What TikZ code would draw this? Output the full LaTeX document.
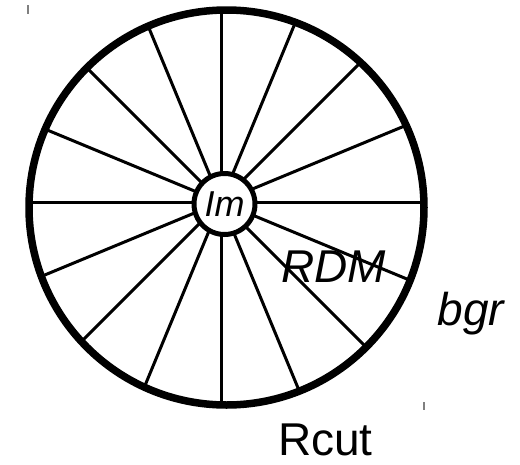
\documentclass[tikz,border=0pt]{standalone}
\usepackage{fontspec}
\setmainfont{Liberation Sans}
\begin{document}
\begin{tikzpicture}[x=1pt,y=-1pt, line join=round, line cap=round,
    spoke/.style={line width=3pt},
    rim/.style={line width=7.5pt},
    hub/.style={circle,draw,line width=5pt,fill=white,inner sep=0pt,minimum size=61pt},
    big/.style={font=\fontsize{46}{46}\selectfont,inner sep=1pt},
    bigit/.style={font=\fontsize{46}{46}\selectfont\itshape,inner sep=1pt},
    tick/.style={gray,line width=1.2pt,line cap=butt}]
            \useasboundingbox (0,0) rectangle (520,464);
            \coordinate (O) at (221,202);
            \coordinate (M) at (226.5,207.5);
            \begin{scope}
              \clip (M) circle (197);
              \foreach \a in {0,22.5,...,337.5}
                \draw[spoke] (O) -- ++(\a:240);
            \end{scope}
            \draw[rim] (M) circle (197.5);
            \node[hub, font=\fontsize{36}{36}\selectfont\itshape] (im) at (224.5,204) {Im};
            \node[bigit, anchor=base] (rdm) at (333.5,282) {RDM};
            \node[bigit, anchor=base] (bgr) at (471,325) {bgr};
            \node[big, anchor=base] (rcut) at (325.5,455) {Rcut};
            \draw[tick] (28,5)--(28,14);
            \draw[tick] (424,402)--(424,410);
        \end{tikzpicture}
\end{document}
